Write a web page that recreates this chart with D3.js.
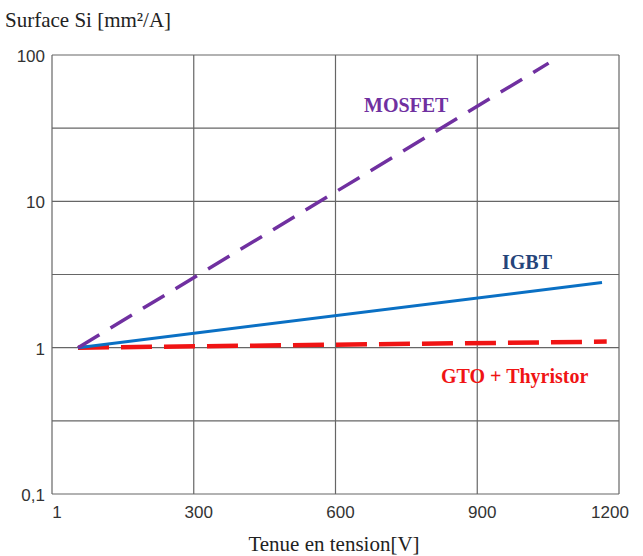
<!DOCTYPE html>
<meta charset="utf-8">
<style>
body { margin: 0; background: #fff; }
.grid line { stroke: #666; stroke-width: 1.2px; }
.tick-label { font-family: "Liberation Sans", Arial, sans-serif; font-size: 17px; fill: #333; }
.axis-title { font-family: "Liberation Serif", "Times New Roman", serif; font-size: 21px; fill: #222; }
.series-label { font-family: "Liberation Serif", "Times New Roman", serif; font-size: 20px; font-weight: bold; }
</style>
<svg></svg>
<script src="https://d3js.org/d3.v7.min.js"></script>
<script>

// values
var volts   = [55, 1051];
var mosfet  = [1, 88];
var igbtV   = [55, 1164];
var igbt    = [1, 2.79];
var gtoV    = [55, 1174];
var gto     = [1, 1.1];

var xTicks = [0, 300, 600, 900, 1200];
var xTickLabels = ["1", "300", "600", "900", "1200"];
var yTicks = [100, 10, 1, 0.1];
var yTickLabels = ["100", "10", "1", "0,1"];
var yGrid = [100, 31.62, 10, 3.162, 1, 0.3162, 0.1];

var svg = d3.select("svg").attr("width", 643).attr("height", 556);

var x = d3.scaleLinear().domain([0, 1200]).range([52, 619]);
var y = d3.scaleLog().domain([0.1, 100]).range([494, 55]);

var grid = svg.append("g").attr("class", "grid");
grid.selectAll(".v").data(xTicks).enter().append("line")
    .attr("x1", d => x(d)).attr("x2", d => x(d))
    .attr("y1", y(100)).attr("y2", y(0.1));
grid.selectAll(".h").data(yGrid).enter().append("line")
    .attr("x1", x(0)).attr("x2", x(1200))
    .attr("y1", d => y(d)).attr("y2", d => y(d));

svg.selectAll(".ylab").data(yTicks).enter().append("text")
    .attr("class", "tick-label")
    .attr("x", 45).attr("y", d => y(d) + 7)
    .attr("text-anchor", "end")
    .text((d, i) => yTickLabels[i]);

svg.selectAll(".xlab").data(xTicks).enter().append("text")
    .attr("class", "tick-label")
    .attr("x", d => Math.min(x(d) + 5, 610)).attr("y", 518)
    .attr("text-anchor", "middle")
    .text((d, i) => xTickLabels[i]);

svg.append("text").attr("class", "axis-title")
    .attr("x", 5).attr("y", 27).text("Surface Si [mm²/A]");
svg.append("text").attr("class", "axis-title")
    .attr("x", 334).attr("y", 551).attr("text-anchor", "middle")
    .text("Tenue en tension[V]");

var line = d3.line().x(d => x(d[0])).y(d => y(d[1]));

svg.append("path")
    .datum(d3.zip(gtoV, gto))
    .attr("d", line)
    .attr("fill", "none").attr("stroke", "#f01414").attr("stroke-width", 4.5)
    .attr("stroke-dasharray", "31,12");

svg.append("path")
    .datum(d3.zip(igbtV, igbt))
    .attr("d", line)
    .attr("fill", "none").attr("stroke", "#0a70c4").attr("stroke-width", 3);

svg.append("path")
    .datum(d3.zip(volts, mosfet))
    .attr("d", line)
    .attr("fill", "none").attr("stroke", "#7030a0").attr("stroke-width", 3.5)
    .attr("stroke-dasharray", "25,13");

svg.append("text").attr("class", "series-label")
    .attr("x", 364).attr("y", 112).attr("fill", "#7030a0").text("MOSFET");
svg.append("text").attr("class", "series-label")
    .attr("x", 502).attr("y", 269).attr("fill", "#24447a").text("IGBT");
svg.append("text").attr("class", "series-label")
    .attr("x", 441).attr("y", 383).attr("fill", "#f01414").text("GTO + Thyristor");

</script>
